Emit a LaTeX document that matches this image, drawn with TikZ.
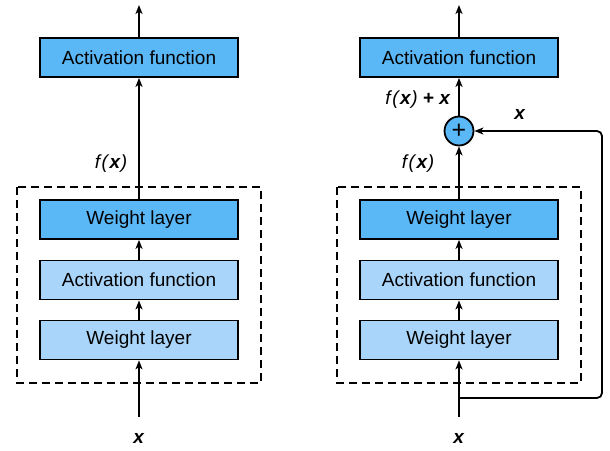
\documentclass[tikz,border=0pt]{standalone}
\usepackage{fontspec}
\setmainfont{Liberation Sans}
\usepackage{tikz}
\usetikzlibrary{arrows.meta}

\definecolor{layerblue}{RGB}{91,184,247}
\definecolor{lightblue}{RGB}{169,213,250}

\tikzset{
  layer/.style={draw,line width=1.8pt,minimum width=198pt,minimum height=39pt,
    inner sep=0pt,font=\fontsize{19}{22}\selectfont},
  darklayer/.style={layer,fill=layerblue},
  lightlayer/.style={layer,fill=lightblue},
  lbl/.style={inner sep=0pt,font=\fontsize{19}{22}\selectfont},
  conn/.style={line width=1.8pt,-{Stealth[length=9pt,width=7pt,inset=2.5pt]}},
  dashbox/.style={line width=1.8pt,dash pattern=on 8pt off 5pt}
}

\newcommand{\vx}{\textbf{\textit{x}}}
\newcommand{\fx}{\textit{f}\textit{(}\vx\textit{)}}

\begin{document}
\begin{tikzpicture}[x=1pt,y=-1pt]
      \useasboundingbox (0,0) rectangle (610,450);

      % plain block
      \begin{scope}
        \node[darklayer] (act_l) at (139,57.5) {Activation function};
        \node[darklayer] (w2_l) at (139,219.5) {Weight layer};
        \node[lightlayer] (a1_l) at (139,280) {Activation function};
        \node[lightlayer] (w1_l) at (139,340) {Weight layer};
        \node[lbl] (fx_l) at (111,164) {\fx};
        \node[lbl] (x_l) at (139,438) {\vx};
        \coordinate (out_l) at (139,5);
        \coordinate (in_l) at (139,417);
        \draw[dashbox] (17,187) rectangle (261,383);
      \end{scope}

      % residual block
      \begin{scope}
        \node[darklayer] (act_r) at (459,57.5) {Activation function};
        \node[draw,circle,fill=layerblue,line width=1.8pt,minimum size=29pt,
          inner sep=0pt,font=\fontsize{25}{25}\selectfont] (plus) at (459,131) {+};
        \node[darklayer] (w2_r) at (459,219.5) {Weight layer};
        \node[lightlayer] (a1_r) at (459,280) {Activation function};
        \node[lightlayer] (w1_r) at (459,340) {Weight layer};
        \node[lbl] (fx_r) at (418,164) {\fx};
        \node[lbl] (sum_r) at (418,100) {\fx\ \textbf{+} \vx};
        \node[lbl] (xs_r) at (520,114) {\vx};
        \node[lbl] (x_r) at (459,438) {\vx};
        \coordinate (out_r) at (459,5);
        \coordinate (in_r) at (459,417);
        \coordinate (br) at (459,398);
        \coordinate (corner_b) at (602,398);
        \coordinate (corner_t) at (602,131);
        \draw[dashbox] (337,187) rectangle (581,383);
      \end{scope}

      \begin{scope}
        \draw[conn] (act_l) -- (out_l);
        \draw[conn] (w2_l) -- (act_l);
        \draw[conn] (a1_l) -- (w2_l);
        \draw[conn] (w1_l) -- (a1_l);
        \draw[conn] (in_l) -- (w1_l);

        \draw[conn] (act_r) -- (out_r);
        \draw[conn] (plus) -- (act_r);
        \draw[conn] (w2_r) -- (plus);
        \draw[conn] (a1_r) -- (w2_r);
        \draw[conn] (w1_r) -- (a1_r);
        \draw[conn] (in_r) -- (w1_r);
        \draw[conn,rounded corners=5pt] (br) -- (corner_b) -- (corner_t) -- (plus);
      \end{scope}
    \end{tikzpicture}
\end{document}
